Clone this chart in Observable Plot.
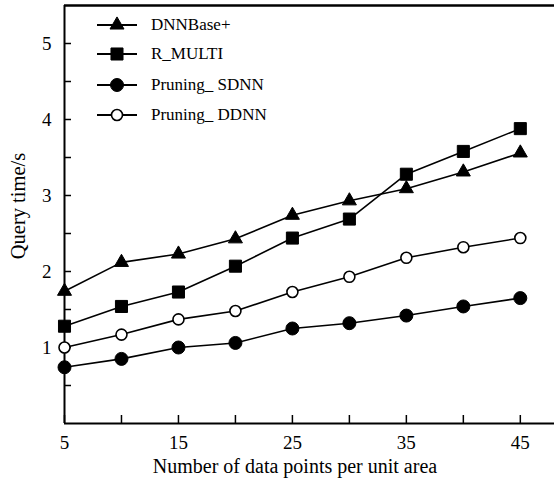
<!DOCTYPE html>
<html><head><meta charset="utf-8">
<script src="https://cdn.jsdelivr.net/npm/d3@7"></script>
<script src="https://cdn.jsdelivr.net/npm/@observablehq/plot@0.6"></script>
<style>body{margin:0;background:#fff} svg{display:block}</style>
</head><body><div id="chart"></div>
<script>
const xValues = [5, 10, 15, 20, 25, 30, 35, 40, 45];
const dnnBasePlus = [1.74, 2.12, 2.23, 2.43, 2.74, 2.93, 3.09, 3.31, 3.56];
const rMulti = [1.28, 1.54, 1.73, 2.07, 2.44, 2.69, 3.28, 3.58, 3.88];
const pruningSDNN = [0.74, 0.85, 1.00, 1.06, 1.25, 1.32, 1.42, 1.54, 1.65];
const pruningDDNN = [1.00, 1.17, 1.37, 1.48, 1.73, 1.93, 2.18, 2.32, 2.44];
const seriesNames = ["DNNBase+", "R_MULTI", "Pruning_ SDNN", "Pruning_ DDNN"];
const xTicks = [5, 10, 15, 20, 25, 30, 35, 40, 45];
const xTickLabels = [5, 15, 25, 35, 45];
const yTicks = [0.5, 1, 1.5, 2, 2.5, 3, 3.5, 4, 4.5, 5];
const yTickLabels = [1, 2, 3, 4, 5];
const xLabel = "Number of data points per unit area";
const yLabel = "Query time/s";

const seriesValues = [dnnBasePlus, rMulti, pruningSDNN, pruningDDNN];
const styles = [
  {symbol: "triangle", r: 5.2, fill: "black", stroke: "black", strokeWidth: 1},
  {symbol: "square", r: 6.8, fill: "black", stroke: "black", strokeWidth: 1},
  {symbol: "circle", r: 6.5, fill: "black", stroke: "black", strokeWidth: 1},
  {symbol: "circle", r: 5.5, fill: "white", stroke: "black", strokeWidth: 1.6}
];
const rows = [];
seriesNames.forEach((s, i) => xValues.forEach((x, j) => rows.push({series: s, x, y: seriesValues[i][j]})));

function legendMark(index, scales, values, dims) {
  const g = d3.create("svg:g").attr("text-anchor", "start");
  const x0 = dims.marginLeft;
  const y0 = dims.marginTop;
  const rowsY = [20, 49, 80, 110];
  seriesNames.forEach((name, i) => {
    const st = styles[i];
    const y = y0 + rowsY[i];
    g.append("line").attr("x1", x0 + 33).attr("x2", x0 + 73).attr("y1", y).attr("y2", y)
      .attr("stroke", "black").attr("stroke-width", 2);
    const sym = {triangle: d3.symbolTriangle, square: d3.symbolSquare, circle: d3.symbolCircle}[st.symbol];
    g.append("path").attr("transform", `translate(${x0 + 53},${y})`)
      .attr("d", d3.symbol(sym, Math.PI * st.r * st.r)())
      .attr("fill", st.fill).attr("stroke", st.stroke).attr("stroke-width", st.strokeWidth);
    g.append("text").attr("x", x0 + 87).attr("y", y).attr("dy", "0.32em")
      .attr("font-size", 17).attr("fill", "black").text(name);
  });
  return g.node();
}

function axisTitles(index, scales, values, dims) {
  const g = d3.create("svg:g").attr("fill", "black").attr("font-size", 20).attr("text-anchor", "middle");
  const {width, height, marginLeft, marginRight, marginTop, marginBottom} = dims;
  const cx = (marginLeft + width - marginRight) / 2 - 14;
  g.append("text").attr("x", cx).attr("y", height - 6).text(xLabel);
  const cy = (marginTop + height - marginBottom) / 2 - 8;
  g.append("text").attr("transform", `translate(25,${cy}) rotate(-90)`).attr("font-size", 20.5).text(yLabel);
  return g.node();
}

const chart = Plot.plot({
  width: 554, height: 479,
  marginLeft: 64, marginRight: 0, marginTop: 5, marginBottom: 56,
  style: {fontFamily: "'Liberation Serif', 'Times New Roman', serif", fontSize: "19px", color: "black", background: "white"},
  x: {domain: [5, 48]},
  y: {domain: [0, 5.5]},
  marks: [
    Plot.axisX({ticks: xTicks, tickSize: -8, tickPadding: 20, strokeWidth: 1.5, fontSize: 19,
      tickFormat: d => xTickLabels.includes(d) ? String(d) : "", label: null}),
    Plot.axisY({ticks: yTicks, tickSize: -7, tickPadding: 20, strokeWidth: 1.5, fontSize: 19,
      tickFormat: d => yTickLabels.includes(d) ? String(d) : "", label: null}),
    Plot.ruleY([0], {strokeWidth: 2}),
    Plot.ruleY([5.5], {strokeWidth: 2.5}),
    Plot.ruleX([5], {strokeWidth: 2}),
    Plot.line(rows, {x: "x", y: "y", z: "series", stroke: "black", strokeWidth: 1.6}),
    ...seriesNames.map((s, i) => Plot.dot(rows.filter(d => d.series === s), {x: "x", y: "y", ...styles[i]})),
    axisTitles,
    legendMark
  ]
});
document.getElementById("chart").appendChild(chart);
</script>
</body></html>
